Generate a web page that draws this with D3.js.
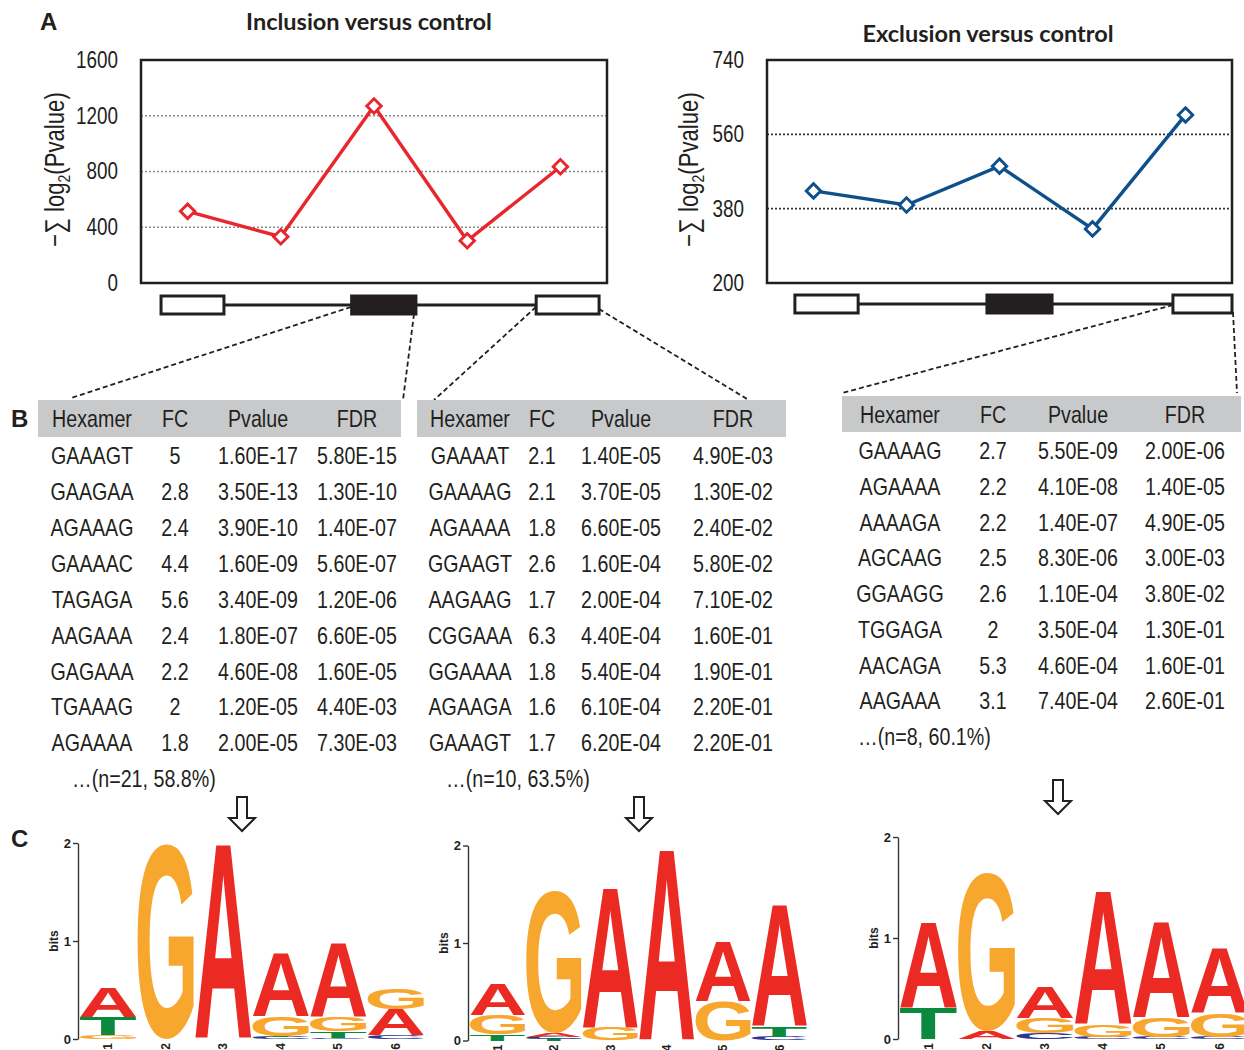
<!DOCTYPE html>
<html>
<head>
<meta charset="utf-8">
<title>Hexamer enrichment</title>
<script src="https://d3js.org/d3.v7.min.js"></script>
<style>
  body { margin: 0; background: #fff; }
</style>
</head>
<body>
<script>
// ---------- data ----------
var regions = ["upstreamExon", "upstreamIntron", "altExon", "downstreamIntron", "downstreamExon"];
var inclusionScore = [514, 332, 1270, 303, 834];
var exclusionScore = [423, 389, 483, 331, 607];
var inclusionTicks = [0, 400, 800, 1200, 1600];
var exclusionTicks = [200, 380, 560, 740];

var tableHeader = ["Hexamer", "FC", "Pvalue", "FDR"];

var t1Hex = ["GAAAGT", "GAAGAA", "AGAAAG", "GAAAAC", "TAGAGA", "AAGAAA", "GAGAAA", "TGAAAG", "AGAAAA"];
var t1FC = ["5", "2.8", "2.4", "4.4", "5.6", "2.4", "2.2", "2", "1.8"];
var t1P = ["1.60E-17", "3.50E-13", "3.90E-10", "1.60E-09", "3.40E-09", "1.80E-07", "4.60E-08", "1.20E-05", "2.00E-05"];
var t1FDR = ["5.80E-15", "1.30E-10", "1.40E-07", "5.60E-07", "1.20E-06", "6.60E-05", "1.60E-05", "4.40E-03", "7.30E-03"];
var t1Foot = "\u2026(n=21, 58.8%)";

var t2Hex = ["GAAAAT", "GAAAAG", "AGAAAA", "GGAAGT", "AAGAAG", "CGGAAA", "GGAAAA", "AGAAGA", "GAAAGT"];
var t2FC = ["2.1", "2.1", "1.8", "2.6", "1.7", "6.3", "1.8", "1.6", "1.7"];
var t2P = ["1.40E-05", "3.70E-05", "6.60E-05", "1.60E-04", "2.00E-04", "4.40E-04", "5.40E-04", "6.10E-04", "6.20E-04"];
var t2FDR = ["4.90E-03", "1.30E-02", "2.40E-02", "5.80E-02", "7.10E-02", "1.60E-01", "1.90E-01", "2.20E-01", "2.20E-01"];
var t2Foot = "\u2026(n=10, 63.5%)";

var t3Hex = ["GAAAAG", "AGAAAA", "AAAAGA", "AGCAAG", "GGAAGG", "TGGAGA", "AACAGA", "AAGAAA"];
var t3FC = ["2.7", "2.2", "2.2", "2.5", "2.6", "2", "5.3", "3.1"];
var t3P = ["5.50E-09", "4.10E-08", "1.40E-07", "8.30E-06", "1.10E-04", "3.50E-04", "4.60E-04", "7.40E-04"];
var t3FDR = ["2.00E-06", "1.40E-05", "4.90E-05", "3.00E-03", "3.80E-02", "1.30E-01", "1.60E-01", "2.60E-01"];
var t3Foot = "\u2026(n=8, 60.1%)";

// sequence logos: per position, letters stacked bottom -> top, height in bits
var logoPositions = ["1", "2", "3", "4", "5", "6"];
var logo1 = [
  [["G", 0.04], ["T", 0.18], ["A", 0.30]],
  [["G", 1.99]],
  [["A", 1.98]],
  [["C", 0.02], ["T", 0.01], ["G", 0.20], ["A", 0.65]],
  [["C", 0.01], ["T", 0.07], ["G", 0.14], ["A", 0.75]],
  [["C", 0.04], ["A", 0.26], ["G", 0.21]]
];
var logo2 = [
  [["T", 0.06], ["G", 0.20], ["A", 0.32]],
  [["T", 0.02], ["C", 0.02], ["A", 0.04], ["G", 1.46]],
  [["G", 0.13], ["A", 1.43]],
  [["A", 1.95]],
  [["G", 0.40], ["A", 0.61]],
  [["C", 0.04], ["T", 0.10], ["A", 1.24]]
];
var logo3 = [
  [["T", 0.30], ["A", 0.84]],
  [["A", 0.08], ["G", 1.56]],
  [["C", 0.06], ["G", 0.15], ["A", 0.30]],
  [["C", 0.02], ["G", 0.12], ["A", 1.32]],
  [["C", 0.02], ["G", 0.19], ["A", 0.95]],
  [["C", 0.02], ["G", 0.24], ["A", 0.64]]
];
var baseColor = { A: "#ec2a24", G: "#f7a72e", T: "#0b8a3e", C: "#2e3592" };

// ---------- fonts ----------
var ctx = document.createElement("canvas").getContext("2d");
function textW(font, s) { ctx.font = font; return ctx.measureText(s).width; }
var hasNarrow = textW("24px 'Liberation Sans Narrow', monospace", "GAAAGT") !== textW("24px monospace", "GAAAGT");
var NARROW = hasNarrow ? "'Liberation Sans Narrow', 'Arial Narrow', sans-serif" : "'Liberation Sans', Arial, sans-serif";
var SX = hasNarrow ? 1 : 0.82;
var INK = "#231f20";

var svg = d3.select("body").append("svg").attr("width", 1244).attr("height", 1050);

function ntext(parent, x, y, str, size, anchor) {
  return parent.append("text")
    .attr("transform", "translate(" + x + "," + y + ") scale(" + SX + ",1)")
    .attr("text-anchor", anchor || "middle")
    .attr("dy", "0.36em")
    .attr("fill", INK)
    .style("font-family", NARROW)
    .style("font-size", size + "px")
    .text(str);
}

// ---------- panel A : line charts ----------
function drawLineChart(cfg) {
  var g = svg.append("g");
  var x = d3.scalePoint().domain(regions).range([cfg.left, cfg.right]).padding(0.5);
  var y = d3.scaleLinear().domain(cfg.domain).range([cfg.bottom, cfg.top]);

  g.selectAll("line.grid").data(cfg.grid).join("line")
    .attr("class", "grid")
    .attr("x1", cfg.left).attr("x2", cfg.right)
    .attr("y1", function(d) { return y(d); })
    .attr("y2", function(d) { return y(d); })
    .attr("stroke", cfg.gridColor)
    .attr("stroke-width", 1.6)
    .attr("stroke-dasharray", "2,2");

  g.append("rect")
    .attr("x", cfg.left).attr("y", cfg.top)
    .attr("width", cfg.right - cfg.left).attr("height", cfg.bottom - cfg.top)
    .attr("fill", "none").attr("stroke", INK).attr("stroke-width", 2.5);

  var ax = g.append("g")
    .attr("transform", "translate(" + cfg.left + ",0)")
    .call(d3.axisLeft(y).tickValues(cfg.ticks).tickSize(0).tickPadding(23).tickFormat(d3.format("d")));
  ax.select(".domain").remove();
  ax.selectAll("text")
    .attr("fill", INK)
    .attr("x", -23 / SX)
    .attr("transform", "scale(" + SX + ",1)")
    .style("font-family", NARROW)
    .style("font-size", "23px");

  var line = d3.line()
    .x(function(d, i) { return x(regions[i]); })
    .y(function(d) { return y(d); });

  g.append("path").datum(cfg.values)
    .attr("d", line)
    .attr("fill", "none")
    .attr("stroke", cfg.color)
    .attr("stroke-width", 3.4);

  g.selectAll("path.pt").data(cfg.values).join("path")
    .attr("class", "pt")
    .attr("d", d3.symbol(d3.symbolSquare, 105))
    .attr("transform", function(d, i) { return "translate(" + x(regions[i]) + "," + y(d) + ") rotate(45)"; })
    .attr("fill", "#fff")
    .attr("stroke", cfg.color)
    .attr("stroke-width", 2.9);

  // title
  g.append("text")
    .attr("x", cfg.titleX).attr("y", cfg.titleY)
    .attr("text-anchor", "middle")
    .attr("fill", INK)
    .style("font-family", "Lato, 'Open Sans', sans-serif")
    .style("font-weight", 700)
    .style("font-size", "23.5px")
    .text(cfg.title);

  // y label
  var lab = g.append("text")
    .attr("transform", "translate(" + cfg.labelX + "," + ((cfg.top + cfg.bottom) / 2 - 2) + ") rotate(-90) scale(" + SX + ",1)")
    .attr("text-anchor", "middle")
    .attr("dy", "0.36em")
    .attr("fill", INK)
    .style("font-family", NARROW)
    .style("font-size", "27px");
  lab.append("tspan").text("\u2212\u2211 log");
  lab.append("tspan").attr("dy", 6).style("font-size", "17px").text("2");
  lab.append("tspan").attr("dy", -6).text("(Pvalue)");

  // gene model beneath the chart
  var gx = d3.scaleLinear().domain([0, 1]).range([cfg.left, cfg.right]);
  var gm = cfg.gene;
  var mid = (cfg.geneTop + cfg.geneBottom) / 2;
  g.append("line")
    .attr("x1", gx(gm[0].a)).attr("x2", gx(gm[gm.length - 1].b))
    .attr("y1", mid).attr("y2", mid)
    .attr("stroke", INK).attr("stroke-width", 3);
  g.selectAll("rect.exon").data(gm).join("rect")
    .attr("class", "exon")
    .attr("x", function(d) { return gx(d.a); })
    .attr("width", function(d) { return gx(d.b) - gx(d.a); })
    .attr("y", cfg.geneTop)
    .attr("height", cfg.geneBottom - cfg.geneTop)
    .attr("fill", function(d) { return d.alt ? INK : "#fff"; })
    .attr("stroke", INK)
    .attr("stroke-width", 3);
}

drawLineChart({
  left: 141, right: 607, top: 60, bottom: 283,
  domain: [0, 1600], ticks: inclusionTicks, grid: [400, 800, 1200],
  gridColor: "#8a8a8a", values: inclusionScore, color: "#e8262d",
  title: "Inclusion versus control", titleX: 369, titleY: 30, labelX: 54,
  gene: [{ a: 0.043, b: 0.178 }, { a: 0.452, b: 0.590, alt: true }, { a: 0.848, b: 0.983 }],
  geneTop: 296, geneBottom: 314
});

drawLineChart({
  left: 767, right: 1232, top: 60, bottom: 283,
  domain: [200, 740], ticks: exclusionTicks, grid: [380, 560],
  gridColor: "#333", values: exclusionScore, color: "#0e508c",
  title: "Exclusion versus control", titleX: 988, titleY: 42, labelX: 688,
  gene: [{ a: 0.060, b: 0.196 }, { a: 0.473, b: 0.613, alt: true }, { a: 0.873, b: 1.0 }],
  geneTop: 295, geneBottom: 313
});

// dashed connectors from exons to tables
var connectors = [
  [351, 307, 71, 398], [414, 314, 403, 400],
  [536, 307, 434, 400], [599, 309, 747, 399],
  [1173, 305, 842, 393], [1233, 312, 1237, 393]
];
svg.append("g").selectAll("line").data(connectors).join("line")
  .attr("x1", function(d) { return d[0]; }).attr("y1", function(d) { return d[1]; })
  .attr("x2", function(d) { return d[2]; }).attr("y2", function(d) { return d[3]; })
  .attr("stroke", INK).attr("stroke-width", 1.8).attr("stroke-dasharray", "5,3");

// ---------- panel B : tables ----------
function drawTable(t) {
  var g = svg.append("g");
  g.append("rect")
    .attr("x", t.x0).attr("y", t.bandTop)
    .attr("width", t.x1 - t.x0).attr("height", t.bandH)
    .attr("fill", "#c8c9cb");
  var rowY = d3.scaleLinear().domain([0, 1]).range([t.firstRow, t.firstRow + t.step]);
  tableHeader.forEach(function(h, j) { ntext(g, t.cols[j], t.bandTop + t.bandH / 2, h, 24); });
  [t.hex, t.fc, t.p, t.fdr].forEach(function(col, j) {
    col.forEach(function(v, i) { ntext(g, t.cols[j], rowY(i), v, 24); });
  });
  ntext(g, t.footX, rowY(t.hex.length), t.footer, 24, "start");
}

drawTable({ x0: 38, x1: 401, bandTop: 400, bandH: 37, firstRow: 455.5, step: 35.9,
  cols: [92, 175, 258, 357], hex: t1Hex, fc: t1FC, p: t1P, fdr: t1FDR, footer: t1Foot, footX: 72 });
drawTable({ x0: 417, x1: 786, bandTop: 400, bandH: 37, firstRow: 455.5, step: 35.9,
  cols: [470, 542, 621, 733], hex: t2Hex, fc: t2FC, p: t2P, fdr: t2FDR, footer: t2Foot, footX: 446 });
drawTable({ x0: 842, x1: 1241, bandTop: 396, bandH: 36, firstRow: 450.7, step: 35.7,
  cols: [900, 993, 1078, 1185], hex: t3Hex, fc: t3FC, p: t3P, fdr: t3FDR, footer: t3Foot, footX: 858 });

// hollow down arrows
var arrows = [[242, 797], [639, 797], [1058, 780]];
svg.append("g").selectAll("path").data(arrows).join("path")
  .attr("d", function(d) {
    var p = d3.path(), cx = d[0], t = d[1];
    p.moveTo(cx - 5, t); p.lineTo(cx + 5, t); p.lineTo(cx + 5, t + 21);
    p.lineTo(cx + 13, t + 21); p.lineTo(cx, t + 34); p.lineTo(cx - 13, t + 21);
    p.lineTo(cx - 5, t + 21); p.closePath();
    return p.toString();
  })
  .attr("fill", "#fff").attr("stroke", INK).attr("stroke-width", 2);

// panel letters
[["A", 40, 30], ["B", 11, 427], ["C", 11, 847]].forEach(function(l) {
  svg.append("text").attr("x", l[1]).attr("y", l[2])
    .attr("fill", INK)
    .style("font-family", "'Liberation Sans', Arial, sans-serif")
    .style("font-weight", 700).style("font-size", "24px")
    .text(l[0]);
});

// ---------- panel C : sequence logos ----------
var LOGO_FONT_SIZE = 200;
function glyphBox(ch) {
  ctx.font = "bold " + LOGO_FONT_SIZE + "px 'Liberation Sans'";
  var m = ctx.measureText(ch);
  return { l: m.actualBoundingBoxLeft, r: m.actualBoundingBoxRight, a: m.actualBoundingBoxAscent, d: m.actualBoundingBoxDescent };
}
var boxes = {};
["A", "C", "G", "T"].forEach(function(c) { boxes[c] = glyphBox(c); });

function drawLogo(stacks, cfg) {
  var g = svg.append("g");
  var x = d3.scaleBand().domain(logoPositions).range(cfg.xr).paddingInner(0.02);
  var y = d3.scaleLinear().domain([0, 2]).range(cfg.yr);

  var letters = [];
  stacks.forEach(function(stack, i) {
    var base = 0;
    stack.forEach(function(s) {
      letters.push({ pos: logoPositions[i], ch: s[0], y0: base, y1: base + s[1] });
      base += s[1];
    });
  });

  g.selectAll("text.base").data(letters).join("text")
    .attr("class", "base")
    .attr("transform", function(d) {
      var b = boxes[d.ch];
      var sx = x.bandwidth() / (b.l + b.r);
      var sy = (y(d.y0) - y(d.y1)) / (b.a + b.d);
      return "translate(" + x(d.pos) + "," + y(d.y0) + ") scale(" + sx + "," + sy + ") translate(" + b.l + "," + (-b.d) + ")";
    })
    .attr("fill", function(d) { return baseColor[d.ch]; })
    .style("font-family", "'Liberation Sans'")
    .style("font-weight", 700)
    .style("font-size", LOGO_FONT_SIZE + "px")
    .text(function(d) { return d.ch; });

  var ax = g.append("g")
    .attr("transform", "translate(" + (cfg.xr[0] - 2) + ",0)")
    .call(d3.axisLeft(y).tickValues([0, 1, 2]).tickSize(5).tickSizeOuter(0).tickPadding(2).tickFormat(d3.format("d")));
  ax.selectAll("path, line").attr("stroke", "#333").attr("stroke-width", 1.4);
  ax.selectAll("text")
    .attr("fill", INK)
    .style("font-family", "'Liberation Sans', Arial, sans-serif")
    .style("font-weight", 700)
    .style("font-size", "13px");

  g.append("text")
    .attr("transform", "translate(" + (cfg.xr[0] - 22) + "," + y(1) + ") rotate(-90)")
    .attr("text-anchor", "middle")
    .attr("fill", INK)
    .style("font-family", "'Liberation Sans', Arial, sans-serif")
    .style("font-weight", 700)
    .style("font-size", "12px")
    .text("bits");

  g.selectAll("text.pos").data(logoPositions).join("text")
    .attr("class", "pos")
    .attr("transform", function(d) { return "translate(" + (x(d) + x.bandwidth() / 2) + "," + (y(0) + 4) + ") rotate(-90)"; })
    .attr("text-anchor", "end")
    .attr("dy", "0.35em")
    .attr("fill", INK)
    .style("font-family", "'Liberation Sans', Arial, sans-serif")
    .style("font-weight", 700)
    .style("font-size", "12px")
    .text(function(d) { return d; });
}

drawLogo(logo1, { xr: [80, 424], yr: [1039, 843] });
drawLogo(logo2, { xr: [470, 807], yr: [1040.5, 845.5] });
drawLogo(logo3, { xr: [900, 1248], yr: [1039, 837] });
</script>
</body>
</html>
